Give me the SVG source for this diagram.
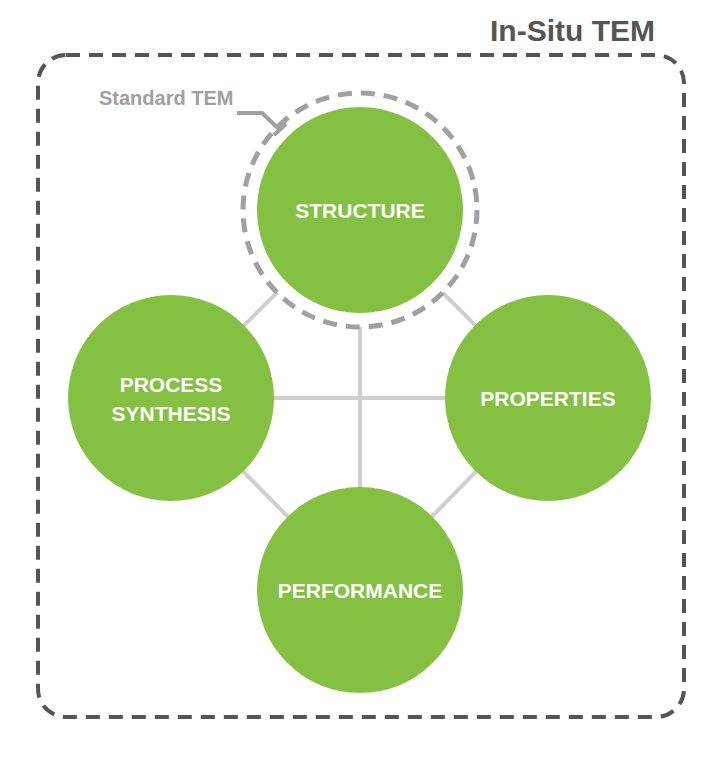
<svg xmlns="http://www.w3.org/2000/svg" width="720" height="757" viewBox="0 0 720 757">
<style>
.node{fill:#84c041}
.lbl{font-family:"Liberation Sans",Arial,sans-serif;font-weight:bold;font-size:21px;fill:#fff;text-anchor:middle}
.con{stroke:#cfcfcf;stroke-width:4;fill:none}
</style>
<rect width="720" height="757" fill="#fff"/>
<g id="frame">
<rect x="38" y="55" width="646" height="662" rx="28" fill="none" stroke="#555" stroke-width="4" stroke-dasharray="14 9"/>
<text x="655" y="41" font-family="Liberation Sans,Arial,sans-serif" font-weight="bold" font-size="30" fill="#555" text-anchor="end">In-Situ TEM</text>
</g>
<g id="connectors" class="con">
<line x1="360" y1="210" x2="171" y2="398"/>
<line x1="360" y1="210" x2="548" y2="398"/>
<line x1="171" y1="398" x2="360" y2="590"/>
<line x1="548" y1="398" x2="360" y2="590"/>
<line x1="171" y1="398" x2="548" y2="398"/>
<line x1="360" y1="210" x2="360" y2="590"/>
</g>
<g id="standard">
<circle cx="360" cy="210" r="117" fill="#fff" stroke="#a0a0a0" stroke-width="5" stroke-dasharray="14 9"/>
<text x="99" y="105" font-family="Liberation Sans,Arial,sans-serif" font-weight="bold" font-size="20" fill="#a0a0a0">Standard TEM</text>
<polyline points="237,113 262,113 280,130" fill="none" stroke="#a0a0a0" stroke-width="4"/>
<line x1="274" y1="135" x2="286" y2="124" stroke="#a0a0a0" stroke-width="4"/>
</g>
<g id="structure"><circle class="node" cx="360" cy="210" r="103"/><text class="lbl" x="360" y="218">STRUCTURE</text></g>
<g id="process"><circle class="node" cx="171" cy="398" r="103"/><text class="lbl" x="171" y="392">PROCESS</text><text class="lbl" x="171" y="421">SYNTHESIS</text></g>
<g id="properties"><circle class="node" cx="548" cy="398" r="103"/><text class="lbl" x="548" y="406">PROPERTIES</text></g>
<g id="performance"><circle class="node" cx="360" cy="590" r="103"/><text class="lbl" x="360" y="598">PERFORMANCE</text></g>
</svg>
